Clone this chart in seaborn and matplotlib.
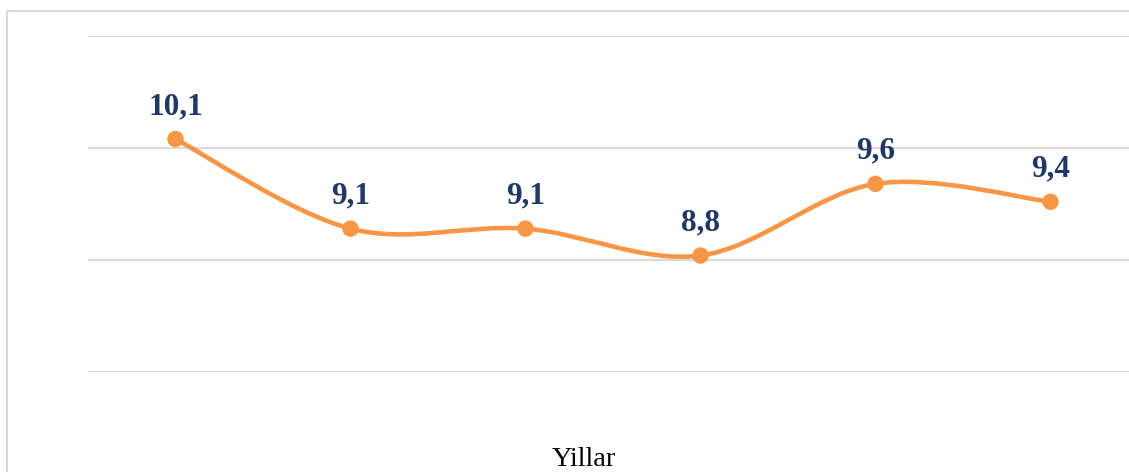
import numpy as np
import matplotlib
matplotlib.use("Agg")
import matplotlib.pyplot as plt
import seaborn as sns
from matplotlib.path import Path
from matplotlib.patches import PathPatch, Rectangle

# values (x labels not shown in the original)
values = [10.1, 9.1, 9.1, 8.8, 9.6, 9.4]
labels = ["10,1", "9,1", "9,1", "8,8", "9,6", "9,4"]
x_title = "Yillar"

line_col = "#F79646"
text_col = "#1F3864"
grid_col = "#D9D9D9"

sns.set_style("white")
plt.rcParams["font.family"] = ["Liberation Serif", "DejaVu Serif"]

fig = plt.figure(figsize=(11.29, 4.72), dpi=100)
ax = fig.add_axes([88 / 1129, 100 / 472, 1050 / 1129, 336 / 472])

xs = np.arange(len(values))
ys = np.array(values)

# smoothed line like excel: cubic bezier, catmull-rom style control points
verts = [(xs[0], ys[0])]
codes = [Path.MOVETO]
n = len(xs)
for i in range(n - 1):
    p0 = np.array([xs[max(i - 1, 0)], ys[max(i - 1, 0)]])
    p1 = np.array([xs[i], ys[i]])
    p2 = np.array([xs[i + 1], ys[i + 1]])
    p3 = np.array([xs[min(i + 2, n - 1)], ys[min(i + 2, n - 1)]])
    c1 = p1 + (p2 - p0) / 6
    c2 = p2 - (p3 - p1) / 6
    verts += [tuple(c1), tuple(c2), tuple(p2)]
    codes += [Path.CURVE4] * 3
ax.add_patch(PathPatch(Path(verts, codes), facecolor="none", edgecolor=line_col,
                       lw=3.3, capstyle="round", zorder=3))

sns.scatterplot(x=xs, y=ys, ax=ax, color=line_col, s=140, edgecolor="none", zorder=4)

for xi, yi, lab in zip(xs, ys, labels):
    ax.annotate(lab, (xi, yi), xytext=(0, 18), textcoords="offset points",
                ha="center", va="baseline", fontsize=22.5, fontweight="bold",
                color=text_col)

ax.set_xlim(-0.5, 5.5)
ax.set_ylim(7.5, 11.25)
ax.set_yticks([7.5, 8.75, 10.0, 11.25])
ax.yaxis.grid(True, color=grid_col, lw=1.6)
ax.set_axisbelow(True)
ax.tick_params(left=False, bottom=False, labelleft=False, labelbottom=False)
for s in ax.spines.values():
    s.set_visible(False)

fig.text(583.5 / 1129, 6 / 472, x_title, ha="center", va="baseline", fontsize=20.5, color="black")

# outer chart frame (right and bottom edges fall outside the image)
fig.patches.append(Rectangle((7 / 1129, -0.1), 1.3, (472 - 11) / 472 + 0.1,
                             transform=fig.transFigure, fill=False,
                             edgecolor=grid_col, lw=1.5))

fig.savefig("out.png", dpi=100)
